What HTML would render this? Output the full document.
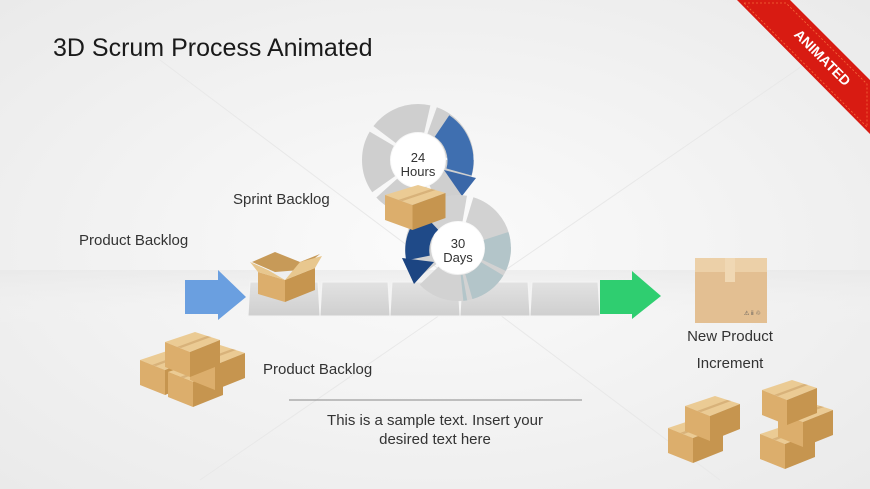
<!DOCTYPE html>
<html><head><meta charset="utf-8"><style>
html,body{margin:0;padding:0;width:870px;height:489px;overflow:hidden;background:#f2f2f2}
svg{display:block}
text{font-family:"Liberation Sans",Arial,sans-serif}
</style></head><body>
<svg width="870" height="489" viewBox="0 0 870 489" xmlns="http://www.w3.org/2000/svg">
<defs>
<radialGradient id="bg" cx="0.5" cy="0.5" r="0.75">
<stop offset="0" stop-color="#fbfbfb"/><stop offset="1" stop-color="#e9e9e9"/></radialGradient>
<linearGradient id="floor" x1="0" y1="0" x2="0" y2="1">
<stop offset="0" stop-color="#e6e6e6"/><stop offset="1" stop-color="#f6f6f6" stop-opacity="0"/></linearGradient>
<linearGradient id="tile" x1="0" y1="0" x2="0" y2="1">
<stop offset="0" stop-color="#e2e2e2"/><stop offset="1" stop-color="#cfcfcf"/></linearGradient>
<g id="box">
<polygon points="0,10 30,0 55,8 25,20" fill="#ebcb94"/>
<polygon points="0,10 25,20 25,45 0,35" fill="#dcae6c"/>
<polygon points="25,20 55,8 55,33 25,45" fill="#c6954f"/>
<polygon points="12,15 42,4 46,5 16,16" fill="#d8b27a"/>
</g>
</defs>
<rect width="870" height="489" fill="url(#bg)"/>
<rect x="0" y="270" width="870" height="55" fill="url(#floor)" opacity="0.6"/>
<line x1="160" y1="60" x2="720" y2="480" stroke="#e8e8e8" stroke-width="1"/>
<line x1="840" y1="40" x2="200" y2="480" stroke="#e8e8e8" stroke-width="1"/>

<text x="53" y="56" font-size="25" fill="#1a1a1a">3D Scrum Process Animated</text>

<!-- ribbon -->
<polygon points="737,0 790,0 870,80 870,134" fill="#d81b12"/>
<polygon points="744,3 786,3 867,84 867,127" fill="none" stroke="#f46a3a" stroke-width="0.8" stroke-dasharray="2 2"/>
<text x="819" y="61" font-size="14" font-weight="bold" fill="#fff" text-anchor="middle" transform="rotate(45 819 61)">ANIMATED</text>

<!-- tiles -->
<g fill="url(#tile)" stroke="#f4f4f4" stroke-width="1">
<polygon points="250,282 318,282 320,316 248,316"/>
<polygon points="322,282 388,282 390,316 320,316"/>
<polygon points="392,282 458,282 460,316 390,316"/>
<polygon points="462,282 528,282 530,316 460,316"/>
<polygon points="532,282 598,282 600,316 530,316"/>
</g>
<!-- arrows -->
<polygon points="185,280 218,280 218,270 246,297 218,320 218,314 185,314" fill="#6a9fe0"/>
<polygon points="600,280 632,280 632,271 661,296 632,319 632,314 600,314" fill="#2fce70"/>

<!-- ring 1 -->
<circle cx="418" cy="160" r="42" fill="none" stroke="#cfcfcf" stroke-width="28" stroke-dasharray="48 5"/>
<path d="M 442 126 A 42 42 0 0 1 459 172" fill="none" stroke="#3f6fb0" stroke-width="26"/>
<polygon points="444,170 476,178 462,196" fill="#3a67a8"/>
<circle cx="418" cy="160" r="27" fill="#fff"/>
<text x="418" y="162" font-size="13" fill="#333" text-anchor="middle">24</text>
<text x="418" y="176" font-size="13" fill="#333" text-anchor="middle">Hours</text>

<!-- ring 2 -->
<circle cx="458" cy="248" r="40" fill="none" stroke="#d2d2d2" stroke-width="26" stroke-dasharray="45 5"/>
<path d="M 496 236 A 40 40 0 0 1 462 288" fill="none" stroke="#b3c5c9" stroke-width="26" stroke-dasharray="30 4"/>
<path d="M 430 221 A 40 40 0 0 0 418 258" fill="none" stroke="#1f4a88" stroke-width="24"/>
<polygon points="402,258 434,262 414,284" fill="#1c4582"/>
<circle cx="458" cy="248" r="26" fill="#fff"/>
<text x="458" y="248" font-size="13" fill="#333" text-anchor="middle">30</text>
<text x="458" y="262" font-size="13" fill="#333" text-anchor="middle">Days</text>

<!-- box in between rings -->
<use href="#box" transform="translate(385,185) scale(1.1,1)"/>
<!-- open box -->
<polygon points="252,262 275,252 300,262 320,254 300,270 275,272" fill="#c79a58"/>
<polygon points="258,272 285,280 285,302 258,294" fill="#dcae6c"/>
<polygon points="285,280 315,268 315,290 285,302" fill="#c6954f"/>
<polygon points="250,262 258,272 285,280 268,270" fill="#e8c78e"/>
<polygon points="285,280 315,268 322,256 300,262" fill="#e8c78e"/>

<!-- new product box -->
<rect x="695" y="258" width="72" height="65" fill="#e3bf92"/>
<rect x="695" y="258" width="72" height="14" fill="#ecd0a8"/>
<rect x="725" y="258" width="10" height="24" fill="#f0d8b4"/>
<text x="744" y="315" font-size="6" fill="#555">⚠ ⅱ ♲</text>

<!-- piles -->
<use href="#box" transform="translate(140,350)"/>
<use href="#box" transform="translate(168,362)"/>
<use href="#box" transform="translate(190,345)"/>
<use href="#box" transform="translate(165,332)"/>
<use href="#box" transform="translate(668,418)"/>
<use href="#box" transform="translate(685,396)"/>
<use href="#box" transform="translate(760,424)"/>
<use href="#box" transform="translate(778,402)"/>
<use href="#box" transform="translate(762,380)"/>

<g font-size="15" fill="#333">
<text x="79" y="245">Product Backlog</text>
<text x="233" y="204">Sprint Backlog</text>
<text x="263" y="374">Product Backlog</text>
<text x="730" y="341" text-anchor="middle">New Product</text>
<text x="730" y="368" text-anchor="middle">Increment</text>
<text x="435" y="425" text-anchor="middle">This is a sample text. Insert your</text>
<text x="435" y="444" text-anchor="middle">desired text here</text>
</g>
<line x1="289" y1="400" x2="582" y2="400" stroke="#888" stroke-width="1"/>
</svg>
</body></html>
